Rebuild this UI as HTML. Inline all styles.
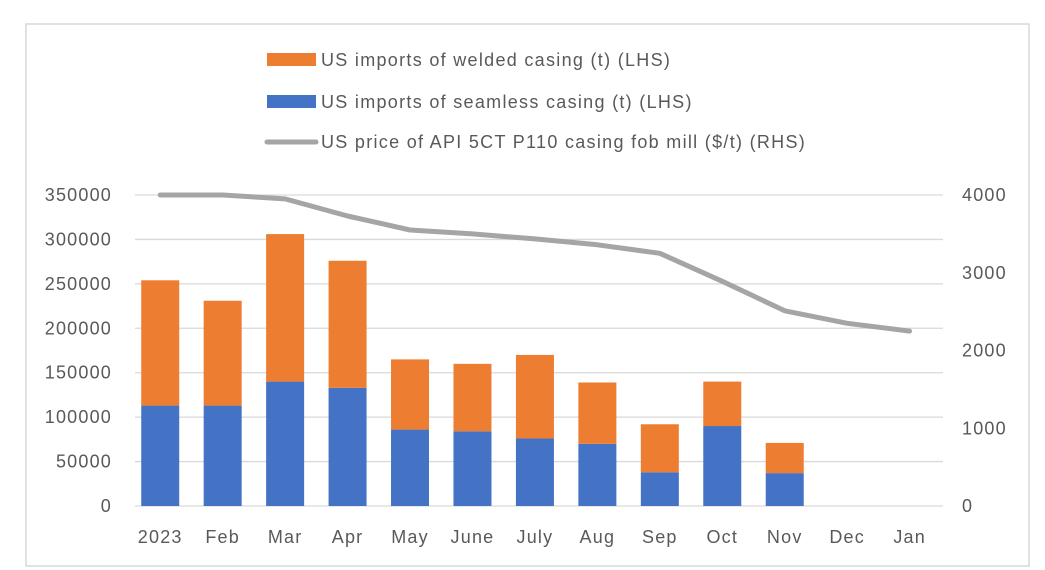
<!DOCTYPE html>
<html><head><meta charset="utf-8"><style>
body{margin:0;background:#fff;}
svg{display:block;font-family:"Liberation Sans",sans-serif;}
</style></head><body>
<svg width="1045" height="570">
<rect x="26" y="24" width="1003" height="542" fill="#fff" stroke="#d9d9d9" stroke-width="1.5"/>
<g font-size="18" letter-spacing="1.3">
<rect x="267" y="53" width="49" height="13" fill="#ed7d31"/>
<text x="321" y="66" fill="#595959">US imports of welded casing (t) (LHS)</text>
<rect x="267" y="95" width="49" height="13" fill="#4472c4"/>
<text x="321" y="108" fill="#595959">US imports of seamless casing (t) (LHS)</text>
<line x1="267" y1="142" x2="316" y2="142" stroke="#a5a5a5" stroke-width="5" stroke-linecap="round"/>
<text x="321" y="148" fill="#595959">US price of API 5CT P110 casing fob mill ($/t) (RHS)</text>
</g>
<g id="grid"></g><g id="bars"></g><g id="line"></g><g id="axes" font-size="18" letter-spacing="1.2"></g>
</svg>
<script>
const categories=["2023","Feb","Mar","Apr","May","June","July","Aug","Sep","Oct","Nov","Dec","Jan"];
const seamless=[113000,113000,140000,133000,86000,84000,76000,70000,38000,90000,37000,null,null];
const welded=[141000,118000,166000,143000,79000,76000,94000,69000,54000,50000,34000,null,null];
const price=[4000,4000,3950,3730,3550,3500,3435,3360,3250,2890,2510,2350,2250];
const leftTicks=[0,50000,100000,150000,200000,250000,300000,350000];
const rightTicks=[0,1000,2000,3000,4000];
const NS="http://www.w3.org/2000/svg";
const x0=129,step=62.45,yBase=506,yTop=195;
const xc=i=>x0+step/2+i*step;
const yL=v=>yBase-(v/350000)*(yBase-yTop);
const yR=v=>yBase-(v/4000)*(yBase-yTop);
function mk(tag,attrs,parent,txt){const e=document.createElementNS(NS,tag);for(const k in attrs)e.setAttribute(k,attrs[k]);if(txt!=null)e.textContent=txt;document.getElementById(parent).appendChild(e);return e;}
leftTicks.forEach(t=>{
 const l=mk('line',{x1:135,x2:943,y1:yL(t),y2:yL(t),stroke:'#d9d9d9','stroke-width':1.3},'grid');
 
 
 const tx=mk('text',{x:112,y:yL(t)+6,fill:'#595959','text-anchor':'end'},'axes',String(t));
 
 
});
rightTicks.forEach(t=>{
 const tx=mk('text',{x:962,y:yR(t)+6,fill:'#595959'},'axes',String(t));
 
 
});
categories.forEach((c,i)=>{
 const tx=mk('text',{x:xc(i),y:543,fill:'#595959','text-anchor':'middle'},'axes',c);
 
 
 if(seamless[i]!=null){
  const b=mk('rect',{x:xc(i)-19,width:38,y:yL(seamless[i]),height:yBase-yL(seamless[i]),fill:'#4472c4'},'bars');
  
  
  const top=seamless[i]+welded[i];
  const w=mk('rect',{x:xc(i)-19,width:38,y:yL(top),height:yL(seamless[i])-yL(top),fill:'#ed7d31'},'bars');
  
  
 }
});
const pts=price.map((v,i)=>xc(i).toFixed(1)+','+yR(v).toFixed(1)).join(' ');
const pl=mk('polyline',{points:pts,fill:'none',stroke:'#a5a5a5','stroke-width':5,'stroke-linejoin':'round','stroke-linecap':'round'},'line');


</script>
</body></html>
